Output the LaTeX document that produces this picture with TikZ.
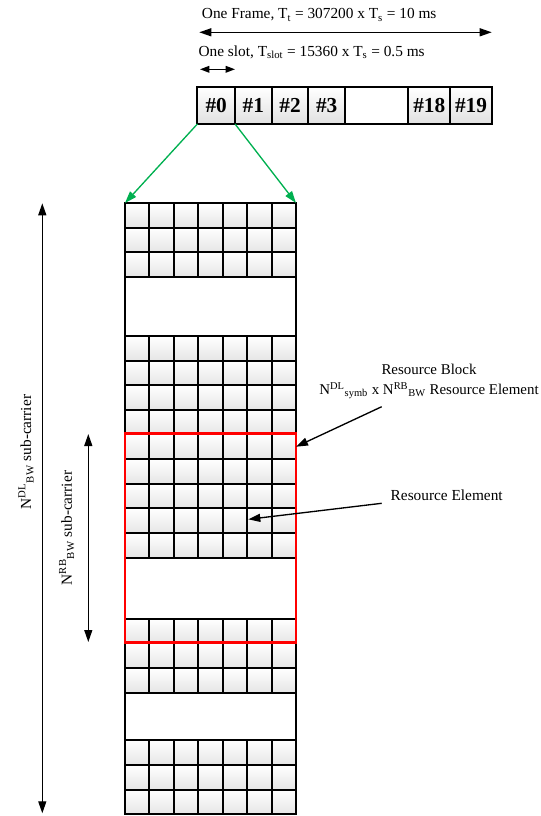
\documentclass[tikz,border=0pt]{standalone}
\usepackage{fontspec}
\setmainfont{Liberation Serif}
\usetikzlibrary{arrows.meta,positioning,calc}
\definecolor{blockred}{HTML}{FF0000}
\definecolor{mapgreen}{HTML}{00B050}

\tikzset{
  recell/.style={draw=black, line width=1.5pt, top color=white, bottom color=black!10},
  slotbox/.style={draw=black, line width=1.5pt, top color=white, bottom color=black!12,
                  minimum height=27.5pt, inner sep=0pt, outer sep=0pt,
                  font=\fontsize{16}{19}\selectfont\bfseries},
  txt/.style={inner sep=0pt, font=\fontsize{11.5}{15}\selectfont},
  dim/.style={line width=1pt, <->},
}

\begin{document}
\begin{tikzpicture}[x=0.75pt, y=-0.75pt, >={Triangle[length=9pt,width=6pt]}]

  \useasboundingbox (0,0) rectangle (540,816);

  %% frame and slot durations
  \node[txt, anchor=west] (frametxt) at (201.7,15)
    {One Frame, T\textsubscript{t} = 307200 x T\textsubscript{s} = 10 ms};
  \coordinate (frameL) at (199.3,32.3);
  \coordinate (frameR) at (491.7,32.3);
  \draw[dim] (frameL) -- (frameR);

  \node[txt, anchor=west] (slottxt) at (198.3,52)
    {One slot, T\textsubscript{slot} = 15360 x T\textsubscript{s} = 0.5 ms};
  \coordinate (slotL) at (200,69.3);
  \coordinate (slotR) at (235,69.3);
  \draw[line width=1pt, {Triangle[length=7pt,width=5pt]}-{Triangle[length=7pt,width=5pt]}]
    (slotL) -- (slotR);

  %% the twenty slots of the frame
  \node[slotbox, minimum width=28.3pt] (s0) at (216.2,105.7) {\#0};
  \node[slotbox, minimum width=27.5pt, right=0pt of s0] (s1) {\#1};
  \node[slotbox, minimum width=27.5pt, right=0pt of s1] (s2) {\#2};
  \node[slotbox, minimum width=27.5pt, right=0pt of s2] (s3) {\#3};
  \node[draw, line width=1.5pt, minimum width=47.5pt, minimum height=27.5pt,
        outer sep=0pt, right=0pt of s3] (sgap) {};
  \node[slotbox, minimum width=31.3pt, right=0pt of sgap] (s18) {\#18};
  \node[slotbox, minimum width=31.3pt, right=0pt of s18] (s19) {\#19};

  %% resource grid of one slot
  \coordinate (gridNW) at (125,203);
  \coordinate (gridNE) at (296,203);
  \foreach \gtop/\nrows in {203/3, 336/9, 618.7/3, 740.3/3}
    \foreach \r in {1,...,\nrows}
      \foreach \c in {1,...,7}
        \draw[recell] ({125+(\c-1)*24.43},{\gtop+(\r-1)*24.62}) rectangle ++(24.43,24.62);
  \draw[line width=1.5pt] (gridNW) rectangle (296,814);

  %% slot #0 maps onto the grid
  \draw[mapgreen, line width=1pt, ->] (s0.south west) -- (gridNW);
  \draw[mapgreen, line width=1pt, ->] (s0.south east) -- (gridNE);

  %% one resource block
  \node[draw=blockred, line width=1.8pt, minimum width=128.25pt, minimum height=157pt,
        inner sep=0pt, outer sep=0pt] (rblock) at (210.5,538) {};

  %% sub-carrier extents
  \coordinate (bwtop) at (42.3,203.3);
  \coordinate (bwbot) at (42.3,813.3);
  \draw[dim] (bwtop) -- (bwbot);
  \node[txt, rotate=90] (bwtxt) at (26,452)
    {N\textsuperscript{DL}\textsubscript{BW} sub-carrier};

  \coordinate (rbtop) at (88.3,434);
  \coordinate (rbbot) at (88.3,642);
  \draw[dim] (rbtop) -- (rbbot);
  \node[txt, rotate=90] (rbtxt) at (66.7,528)
    {N\textsuperscript{RB}\textsubscript{BW} sub-carrier};

  %% annotations
  \node[txt, align=center, font=\fontsize{11.2}{15}\selectfont] (blocktxt) at (429,381.7)
    {Resource Block\\N\textsuperscript{DL}\textsubscript{symb} x N\textsuperscript{RB}\textsubscript{BW} Resource Element};
  \coordinate (blocktail) at (381.7,406.7);
  \draw[line width=1pt, ->] (blocktail) -- ($(rblock.north east)!0.064!(rblock.south east)$);

  \node[txt] (eltxt) at (446.7,495.7) {Resource Element};
  \coordinate (eltail) at (381.7,503.3);
  \coordinate (elhead) at (248.3,519.3);
  \draw[line width=1pt, ->] (eltail) -- (elhead);

\end{tikzpicture}
\end{document}
